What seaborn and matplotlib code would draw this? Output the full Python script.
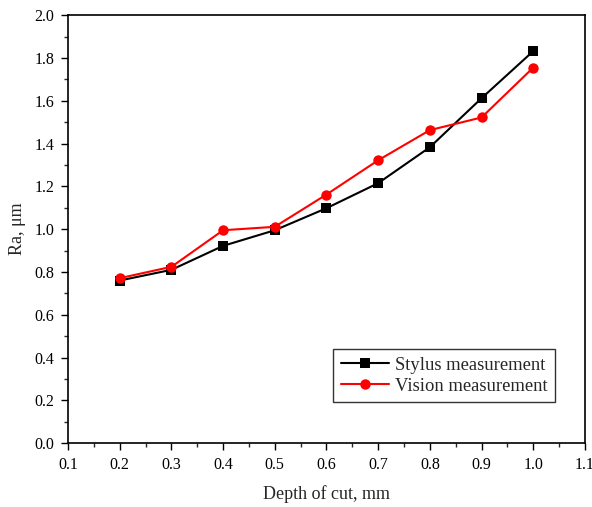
import matplotlib
matplotlib.use("Agg")
import matplotlib.pyplot as plt
import seaborn as sns
import pandas as pd
from matplotlib.ticker import MultipleLocator

depth = [0.2, 0.3, 0.4, 0.5, 0.6, 0.7, 0.8, 0.9, 1.0]
stylus = [0.760, 0.810, 0.922, 0.995, 1.098, 1.215, 1.383, 1.612, 1.832]
vision = [0.771, 0.824, 0.995, 1.011, 1.162, 1.322, 1.463, 1.522, 1.755]
series_names = ["Stylus measurement", "Vision measurement"]

sns.set_style("ticks")
plt.rcParams["font.family"] = ["Liberation Serif", "DejaVu Serif"]

df = pd.DataFrame({
    "depth": depth * 2,
    "Ra": stylus + vision,
    "series": [series_names[0]] * len(depth) + [series_names[1]] * len(depth),
})

fig = plt.figure(figsize=(5.92, 5.07), dpi=100)
ax = fig.add_axes([0.115, 0.126, 0.873, 0.844])

sns.lineplot(data=df, x="depth", y="Ra", hue="series", style="series",
             palette={series_names[0]: "black", series_names[1]: "red"},
             markers={series_names[0]: "s", series_names[1]: "o"},
             dashes=False, markersize=7.5, linewidth=1.5,
             markeredgewidth=0, ax=ax)

ax.set_xlim(0.1, 1.1)
ax.set_ylim(0.0, 2.0)
ax.xaxis.set_major_locator(MultipleLocator(0.1))
ax.xaxis.set_minor_locator(MultipleLocator(0.05))
ax.yaxis.set_major_locator(MultipleLocator(0.2))
ax.yaxis.set_minor_locator(MultipleLocator(0.1))
ax.xaxis.set_major_formatter(matplotlib.ticker.FormatStrFormatter("%.1f"))
ax.yaxis.set_major_formatter(matplotlib.ticker.FormatStrFormatter("%.1f"))
ax.tick_params(which="major", direction="out", length=5, width=1, labelsize=11.5,
               colors="black", pad=5)
ax.tick_params(which="minor", direction="out", length=3, width=1)
for s in ax.spines.values():
    s.set_linewidth(1.2)
    s.set_color("black")

ax.set_xlabel("Depth of cut, mm", fontsize=13, labelpad=9)
ax.set_ylabel("Ra, μm", fontsize=13, labelpad=6)

leg = ax.legend(loc="lower right", bbox_to_anchor=(0.942, 0.096), borderaxespad=0,
                fontsize=13.4, frameon=True, fancybox=False, edgecolor="black",
                handlelength=2.6, handletextpad=0.3, borderpad=0.4, labelspacing=0.2)
leg.get_frame().set_linewidth(1.0)

fig.savefig("out.png", dpi=100)
